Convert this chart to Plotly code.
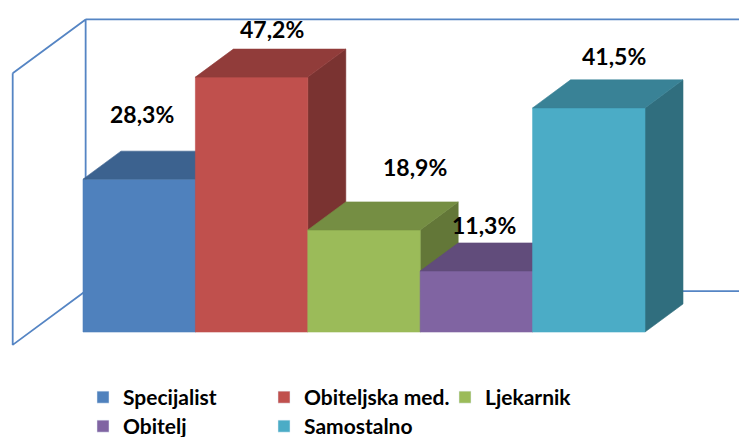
import plotly.graph_objects as go

categories = ["Specijalist", "Obiteljska med.", "Ljekarnik", "Obitelj", "Samostalno"]
values = [28.3, 47.2, 18.9, 11.3, 41.5]
labels = ["28,3%", "47,2%", "18,9%", "11,3%", "41,5%"]

front_colors = ["#4F81BD", "#C0504D", "#9BBB59", "#8064A2", "#4BACC6"]
legend_rows = ["legend", "legend", "legend", "legend2", "legend2"]

# label nudges in pixels (Excel places 3D labels a bit unevenly)
label_dx = [-16, 1, 32, -11, 6]
label_dy = [37, 20, 35, 18, 24]

# oblique projection of the bar depth
DU = 0.338   # category units
DV = 5.19    # percent units
WALL_GAP = 0.47
Z_FRONT, Z_BACK = -0.46, 1.46
WALL_TOP = 50.3
WALL_COLOR = "#5585C4"
FONT = "Lato"


def shade(hex_color, f):
    h = hex_color.lstrip("#")
    r, g, b = (int(h[i:i + 2], 16) for i in (0, 2, 4))
    return "#{:02X}{:02X}{:02X}".format(int(r * f), int(g * f), int(b * f))


def pt(u, v, z):
    return u + z * DU, v + z * DV


def poly(points, color):
    xs = [p[0] for p in points] + [points[0][0]]
    ys = [p[1] for p in points] + [points[0][1]]
    return go.Scatter(
        x=xs, y=ys, mode="lines", fill="toself", fillcolor=color,
        line=dict(color=color, width=0.6), hoverinfo="skip", showlegend=False,
    )


fig = go.Figure()

# walls: left side wall + back wall outline
n = len(values)
left, right = -WALL_GAP, n + WALL_GAP
side = [pt(left, WALL_TOP, Z_FRONT), pt(left, WALL_TOP, Z_BACK),
        pt(left, 0, Z_BACK), pt(left, 0, Z_FRONT), pt(left, WALL_TOP, Z_FRONT)]
back_top = [pt(left, WALL_TOP, Z_BACK), pt(right, WALL_TOP, Z_BACK)]
back_bot = [pt(left, 0, Z_BACK), pt(right, 0, Z_BACK)]
wx, wy = [], []
for seg in (side, back_top, back_bot):
    wx += [p[0] for p in seg] + [None]
    wy += [p[1] for p in seg] + [None]
fig.add_trace(go.Scatter(x=wx, y=wy, mode="lines",
                         line=dict(color=WALL_COLOR, width=1.8),
                         hoverinfo="skip", showlegend=False))

# 3D bars, drawn left to right so later bars hide earlier side faces
for i, (h, c) in enumerate(zip(values, front_colors)):
    u0, u1 = i, i + 1
    front = [pt(u0, 0, 0), pt(u1, 0, 0), pt(u1, h, 0), pt(u0, h, 0)]
    top = [pt(u0, h, 0), pt(u1, h, 0), pt(u1, h, 1), pt(u0, h, 1)]
    sidef = [pt(u1, 0, 0), pt(u1, 0, 1), pt(u1, h, 1), pt(u1, h, 0)]
    fig.add_trace(poly(sidef, shade(c, 0.64)))
    fig.add_trace(poly(front, c))
    fig.add_trace(poly(top, shade(c, 0.76)))

# legend-only entries (two rows = two legends so the columns line up)
for name, c, lg in zip(categories, front_colors, legend_rows):
    fig.add_trace(go.Bar(x=[None], y=[None], name=name, marker_color=c, legend=lg))

for i, (h, lab) in enumerate(zip(values, labels)):
    fig.add_annotation(
        x=i + 0.5 + DU / 2, y=h + DV, text=lab, showarrow=False,
        xanchor="center", yanchor="middle",
        xshift=label_dx[i], yshift=label_dy[i],
        font=dict(family=FONT, size=23, color="black", weight="bold"),
    )

# the page body adds an 8px offset, so pixel anchors are shifted by it
W, H = 747, 437
X0, PXU = 75, 112.4
Y0, PXV = 324, 5.4
legend_style = dict(
    orientation="h", x=75 / W, xanchor="left", yanchor="top",
    entrywidth=136, entrywidthmode="pixels", traceorder="normal",
    font=dict(family=FONT, size=21, color="black", weight="bold"),
    bgcolor="rgba(0,0,0,0)",
)
fig.update_layout(
    width=W, height=H,
    margin=dict(l=0, r=0, t=0, b=0, autoexpand=False),
    paper_bgcolor="white", plot_bgcolor="white",
    xaxis=dict(range=[-X0 / PXU, (W - X0) / PXU], visible=False, fixedrange=True),
    yaxis=dict(range=[(Y0 - H) / PXV, Y0 / PXV], visible=False, fixedrange=True),
    showlegend=True,
    legend=dict(legend_style, y=1 - 369 / H),
    legend2=dict(legend_style, y=1 - 398 / H),
)

fig.write_html("out.html")
